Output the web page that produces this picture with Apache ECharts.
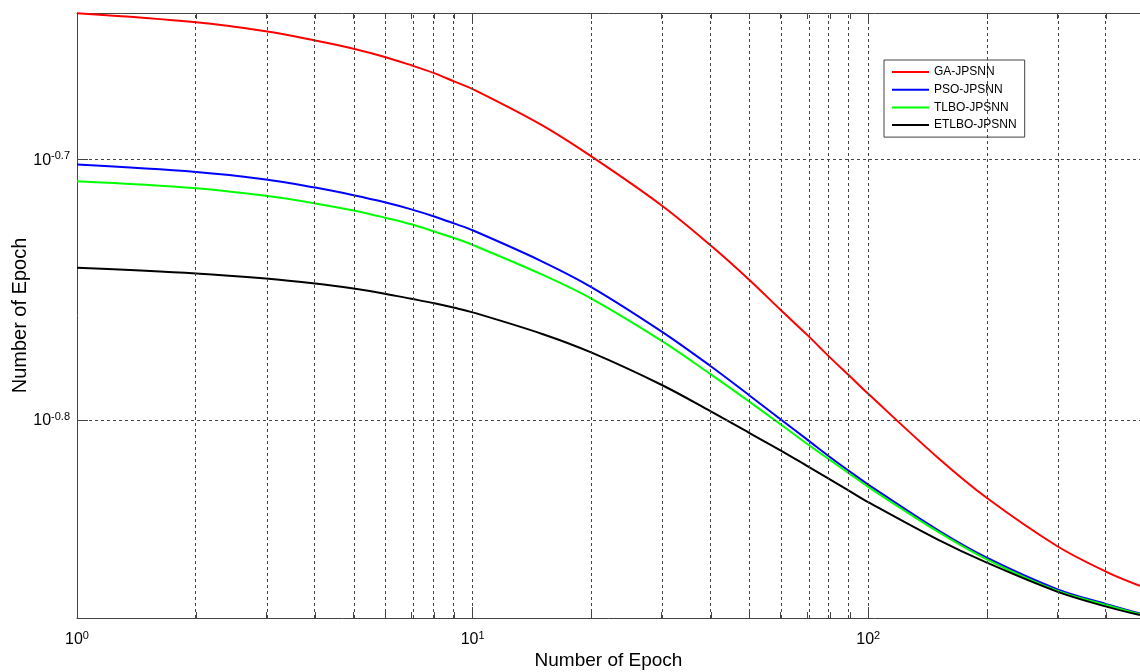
<!DOCTYPE html>
<html><head><meta charset="utf-8">
<script src="https://cdn.jsdelivr.net/npm/echarts@6/dist/echarts.min.js"></script>
<style>html,body{margin:0;padding:0;background:#fff}#c{width:1140px;height:672px}</style>
</head><body><div id="c"></div>
<script>
// ---- data ----
const epochs = [1,2,3,4,5,6,7,8,9,10,15,20,30,40,50,60,70,80,90,100,150,200,300,400,486];
const gaJPSNN    = [0.2270,0.2252,0.2234,0.2216,0.2200,0.2184,0.2168,0.2153,0.2137,0.2123,0.2056,0.2000,0.1916,0.1849,0.1794,0.1747,0.1709,0.1675,0.1647,0.1622,0.1533,0.1479,0.1418,0.1386,0.1369];
const psoJPSNN   = [0.1986,0.1973,0.1960,0.1946,0.1933,0.1921,0.1909,0.1897,0.1885,0.1874,0.1823,0.1782,0.1714,0.1662,0.1620,0.1586,0.1558,0.1534,0.1514,0.1497,0.1438,0.1403,0.1365,0.1347,0.1336];
const tlboJPSNN  = [0.1957,0.1945,0.1932,0.1919,0.1907,0.1895,0.1884,0.1872,0.1861,0.1850,0.1802,0.1764,0.1700,0.1650,0.1611,0.1579,0.1552,0.1530,0.1511,0.1494,0.1436,0.1401,0.1363,0.1346,0.1335];
const etlboJPSNN = [0.1813,0.1804,0.1796,0.1788,0.1780,0.1772,0.1764,0.1757,0.1750,0.1743,0.1710,0.1682,0.1635,0.1597,0.1567,0.1543,0.1522,0.1504,0.1488,0.1474,0.1426,0.1397,0.1362,0.1344,0.1334];
const seriesNames = ['GA-JPSNN','PSO-JPSNN','TLBO-JPSNN','ETLBO-JPSNN'];
const xMajorTicks = [1,10,100];
const xMinorTicks = [2,3,4,5,6,7,8,9,20,30,40,50,60,70,80,90,200,300,400];
const yTickExponents = [-0.8,-0.7];
const xRange = [1,486.4];
const yRangeExp = [-0.87595,-0.64388];

// ---- build ----
const L = Math.log10;
const colors = ['#ff0000','#0000ff','#00ff00','#000000'];
const allVals = [gaJPSNN, psoJPSNN, tlboJPSNN, etlboJPSNN];
const font = "'Liberation Sans', Arial, Helvetica, sans-serif";
const axisColor = '#444';
const xMin = L(xRange[0]), xMax = L(xRange[1]);
const xMajorLog = xMajorTicks.map(L), xMinorLog = xMinorTicks.map(L);
const rich = {
  b: {fontSize: 16, fontFamily: font, color: '#000', lineHeight: 18, verticalAlign: 'bottom'},
  s: {fontSize: 11, fontFamily: font, color: '#000', lineHeight: 11, padding: [0,0,10,0], verticalAlign: 'top'}
};
function xAxisDef(pos, major, extra) {
  return Object.assign({
    type: 'value', min: xMin, max: xMax, position: pos,
    axisLine: {show: true, onZero: false, lineStyle: {color: axisColor, width: 1}},
    axisTick: {show: true, inside: true, length: major ? 11 : 6, customValues: major ? xMajorLog : xMinorLog, lineStyle: {color: axisColor}},
    axisLabel: {show: false},
    splitLine: {show: false}
  }, extra || {});
}
const xAxes = [
  xAxisDef('bottom', true, {
    axisLabel: {show: true, customValues: xMajorLog, margin: 12,
      formatter: v => '{b|10}{s|' + Math.round(v) + '}', rich: rich},
    name: 'Number of Epoch', nameLocation: 'middle', nameGap: 33, nameMoveOverlap: false,
    nameTextStyle: {fontSize: 19, fontFamily: font, color: '#000'}
  }),
  xAxisDef('bottom', false, {axisLine: {show: false}}),
  xAxisDef('top', true),
  xAxisDef('top', false, {axisLine: {show: false}})
];
const option = {
  animation: false,
  backgroundColor: '#fff',
  grid: {left: 77, right: 0, top: 13, bottom: 54, containLabel: false, outerBoundsMode: 'none'},
  xAxis: xAxes,
  yAxis: [{
    type: 'value', min: yRangeExp[0], max: yRangeExp[1], position: 'left',
    axisLine: {show: true, onZero: false, lineStyle: {color: axisColor, width: 1}},
    axisTick: {show: true, inside: true, length: 11, customValues: yTickExponents, lineStyle: {color: axisColor}},
    axisLabel: {show: true, customValues: yTickExponents, margin: 7,
      formatter: v => '{b|10}{s|' + v.toFixed(1) + '}', rich: rich},
    splitLine: {show: false},
    name: 'Number of Epoch', nameLocation: 'middle', nameGap: 47, nameRotate: 90, nameMoveOverlap: false,
    nameTextStyle: {fontSize: 20, fontFamily: font, color: '#000'}
  }],
  legend: {
    orient: 'vertical', left: 884, top: 60,
    data: seriesNames,
    icon: 'path://M0,0h37v2h-37z',
    itemWidth: 37, itemHeight: 14, itemGap: 5.7,
    padding: [6, 8, 6, 8],
    borderColor: axisColor, borderWidth: 1, backgroundColor: '#fff',
    textStyle: {fontSize: 12, fontFamily: font, color: '#000'}
  },
  series: [
    {
      type: 'line', data: [], silent: true, z: 1, xAxisIndex: 0, yAxisIndex: 0,
      markLine: {
        silent: true, symbol: ['none','none'], label: {show: false}, animation: false,
        lineStyle: {type: [3,3], color: '#444', width: 1},
        emphasis: {disabled: true},
        data: xMinorLog.concat(xMajorLog.slice(1)).map(v => ({xAxis: v}))
          .concat(yTickExponents.map(v => ({yAxis: v})))
      }
    }
  ].concat(seriesNames.map((n, i) => ({
    name: n, type: 'line', z: 3, xAxisIndex: 0, yAxisIndex: 0,
    symbol: 'none', smooth: 0.35,
    color: colors[i],
    lineStyle: {color: colors[i], width: 2},
    data: epochs.map((e, k) => [L(e), L(allVals[i][k])])
  })))
};
const chart = echarts.init(document.getElementById('c'), null, {renderer: 'canvas'});
chart.setOption(option);
</script>
</body></html>
